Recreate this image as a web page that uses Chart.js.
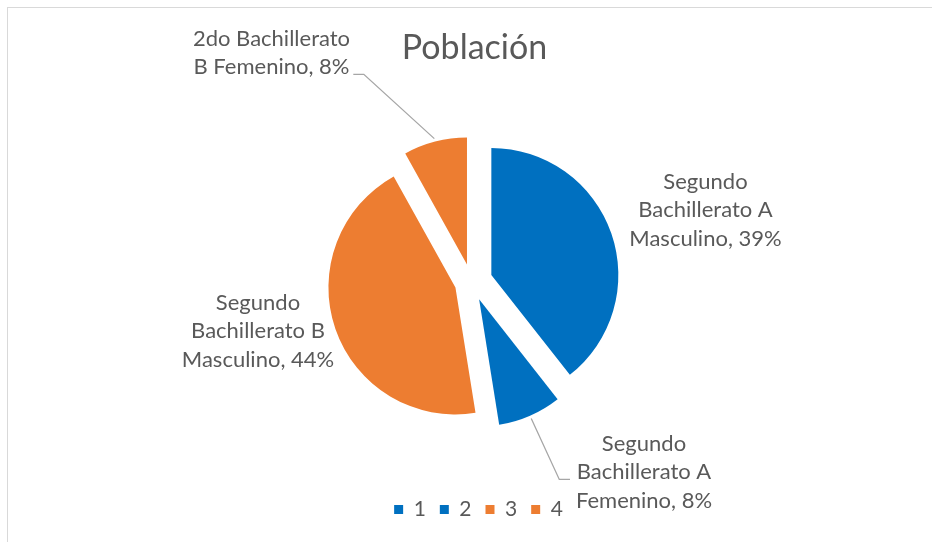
<!DOCTYPE html>
<html>
<head>
<meta charset="utf-8">
<script src="https://cdn.jsdelivr.net/npm/chart.js@4/dist/chart.umd.min.js"></script>
<style>
html,body{margin:0;padding:0;background:#ffffff;}
#wrap{position:relative;width:932px;height:542px;overflow:hidden;background:#fff;}
#frame{position:absolute;left:7px;top:7px;width:1000px;height:1000px;border:1px solid #D9D9D9;box-sizing:border-box;}
#c{position:absolute;left:0;top:0;}
</style>
</head>
<body>
<div id="wrap"><div id="frame"></div><canvas id="c" width="932" height="542"></canvas></div>
<script>
// ---- data ----
const titleText = 'Población';
const legendLabels = ['1', '2', '3', '4'];
const categoryLines = [
  ['Segundo', 'Bachillerato A', 'Masculino'],
  ['Segundo', 'Bachillerato A', 'Femenino'],
  ['Segundo', 'Bachillerato B', 'Masculino'],
  ['2do Bachillerato', 'B Femenino']
];
const values = [39, 8, 44, 8];

// ---- style ----
const colors = ['#0070C0', '#0070C0', '#ED7D31', '#ED7D31'];
const TEXT_COLOR = '#595959';
const FONT = 'Lato';
const LABEL_SIZE = 22;
const LINE_H = 28.5;
const EXPLODE = [21, 19, 17, 18];            // px shift of each slice along its bisector
// label anchor: [dx, dy] from pie centre (centre x, first baseline)
const LABEL_POS = [[234, -93], [172.5, 169], [-213.5, 27.7], [-200, -236]];
// leader: [elbowDx, elbowDy, endDx] relative to pie centre, or null
const LEADERS = [null, [87.8, 197.5, 98.5], null, [-107.7, -207.6, -118.2]];
const LEGEND_SHIFT = 7;
const TITLE_SHIFT = 3;

const slicePlugin = {
  id: 'sliceLayout',
  afterLayout(chart) {
    if (chart.legend) { chart.legend.left += LEGEND_SHIFT; chart.legend.right += LEGEND_SHIFT; }
    if (chart.titleBlock) { chart.titleBlock.left += TITLE_SHIFT; chart.titleBlock.right += TITLE_SHIFT; }
  },
  beforeDatasetsDraw(chart) {
    const meta = chart.getDatasetMeta(0);
    meta.data.forEach((arc, i) => {
      const mid = (arc.startAngle + arc.endAngle) / 2;
      arc._baseX = arc.x; arc._baseY = arc.y;
      arc.x = arc._baseX + Math.cos(mid) * EXPLODE[i];
      arc.y = arc._baseY + Math.sin(mid) * EXPLODE[i];
    });
  },
  afterDatasetsDraw(chart) {
    const meta = chart.getDatasetMeta(0);
    const ctx = chart.ctx;
    const ca = chart.chartArea;
    const cx = (ca.left + ca.right) / 2, cy = (ca.top + ca.bottom) / 2;
    const total = values.reduce((a, b) => a + b, 0);
    ctx.save();
    meta.data.forEach((arc, i) => {
      const ld = LEADERS[i];
      if (ld) {
        const mid = (arc.startAngle + arc.endAngle) / 2;
        const r = arc.outerRadius + 3;
        ctx.beginPath();
        ctx.moveTo(arc.x + Math.cos(mid) * r, arc.y + Math.sin(mid) * r);
        ctx.lineTo(cx + ld[0], cy + ld[1]);
        ctx.lineTo(cx + ld[2], cy + ld[1]);
        ctx.strokeStyle = '#A6A6A6';
        ctx.lineWidth = 1.3;
        ctx.stroke();
      }
      const pct = Math.round(values[i] / total * 100);
      const lines = categoryLines[i].slice();
      lines[lines.length - 1] += ', ' + pct + '%';
      ctx.font = LABEL_SIZE + 'px ' + FONT;
      ctx.fillStyle = TEXT_COLOR;
      ctx.textAlign = 'center';
      ctx.textBaseline = 'alphabetic';
      const p = LABEL_POS[i];
      lines.forEach((t, k) => ctx.fillText(t, cx + p[0], cy + p[1] + k * LINE_H));
    });
    ctx.restore();
    meta.data.forEach(arc => { arc.x = arc._baseX; arc.y = arc._baseY; });
  }
};

Chart.defaults.font.family = FONT;
Chart.defaults.color = TEXT_COLOR;

new Chart(document.getElementById('c'), {
  type: 'pie',
  data: {
    labels: legendLabels,
    datasets: [{
      data: values,
      backgroundColor: colors,
      borderWidth: 0
    }]
  },
  options: {
    responsive: false,
    devicePixelRatio: 1,
    animation: false,
    events: [],
    radius: 127,
    layout: { padding: { left: 11, right: 0, top: 18, bottom: 12 } },
    plugins: {
      title: {
        display: true,
        text: titleText,
        color: TEXT_COLOR,
        font: { size: 34, weight: 'normal', family: FONT },
        padding: { top: 10, bottom: 10 }
      },
      legend: {
        position: 'bottom',
        labels: {
          boxWidth: 9,
          boxHeight: 9,
          padding: 14,
          color: TEXT_COLOR,
          font: { size: 21, family: FONT }
        }
      },
      tooltip: { enabled: false }
    }
  },
  plugins: [slicePlugin]
});
</script>
</body>
</html>
